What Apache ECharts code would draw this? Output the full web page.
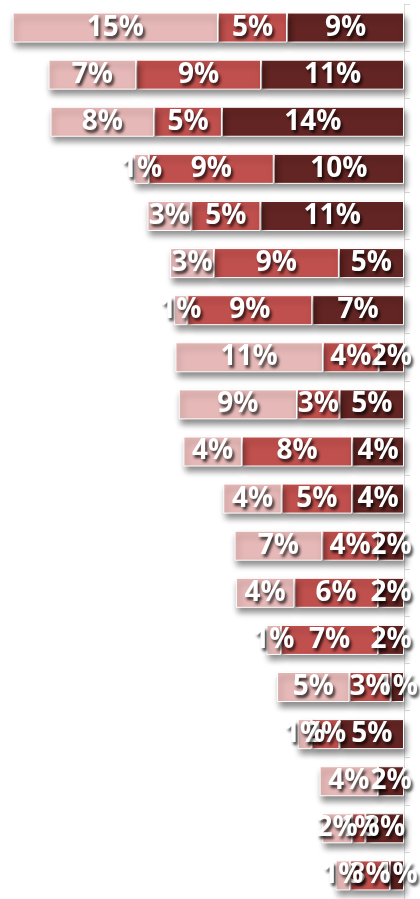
<!DOCTYPE html>
<html>
<head>
<meta charset="utf-8">
<script src="https://cdn.jsdelivr.net/npm/echarts@6/dist/echarts.min.js"></script>
<style>
    html,body{margin:0;padding:0;background:#fff;}
    #chart{width:420px;height:899px;}
</style>
</head>
<body>
<div id="chart"></div>
<script>
// 行（从上到下）
var categories = ['r1','r2','r3','r4','r5','r6','r7','r8','r9','r10','r11','r12','r13','r14','r15','r16','r17','r18','r19'];
// 三段的百分比数值（左：浅色，中：红色，右：深色）
var lightValues = [15.45, 6.6, 7.8, 1.1, 3.3, 3.3, 1.0, 11.1, 8.9, 4.4, 4.4, 6.6, 4.4, 1.1, 5.45, 1.05, 4.4, 2.25, 1.1];
var midValues   = [5.2, 9.4, 5.1, 9.4, 5.2, 9.4, 9.4, 4.2, 3.2, 8.3, 5.3, 4.2, 6.3, 7.3, 3.1, 2.1, 0, 1.0, 3.0];
var darkValues  = [8.8, 10.75, 13.7, 9.8, 10.8, 4.9, 6.9, 1.9, 4.85, 3.9, 3.9, 1.95, 1.95, 1.95, 1.0, 4.85, 1.95, 2.9, 1.05];

var chart = echarts.init(document.getElementById('chart'));

function makeSeries(name, data, color){
    return {
        name: name,
        type: 'bar',
        stack: 'total',
        data: data,
        barWidth: 30,
        itemStyle: {
            color: color,
            borderColor: '#ffffff',
            borderWidth: 1,
            shadowColor: 'rgba(0,0,0,0.45)',
            shadowBlur: 6,
            shadowOffsetX: 2,
            shadowOffsetY: 5
        },
        label: {
            show: true,
            position: 'inside',
            color: '#ffffff',
            fontFamily: 'Open Sans',
            fontWeight: 'bold',
            fontSize: 28,
            textShadowColor: 'rgba(0,0,0,0.75)',
            textShadowBlur: 3,
            textShadowOffsetX: 2,
            textShadowOffsetY: 3,
            formatter: function(p){
                return p.value > 0 ? Math.round(p.value) + '%' : '';
            }
        }
    };
}

var option = {
    animation: false,
    grid: {
        left: 0,
        right: 16,
        top: 4,
        height: 902
    },
    xAxis: {
        type: 'value',
        inverse: true,
        min: 0,
        max: 30.4,
        show: false
    },
    yAxis: {
        type: 'category',
        data: categories,
        inverse: true,
        position: 'right',
        axisLine: {
            show: true,
            lineStyle: { color: '#d9d9d9', width: 1 }
        },
        axisTick: {
            show: true,
            length: 6,
            lineStyle: { color: '#d9d9d9' }
        },
        axisLabel: { show: false }
    },
    // x 轴反向，先堆叠的在右侧
    series: [
        makeSeries('dark', darkValues, '#632523'),
        makeSeries('mid', midValues, '#c0504d'),
        makeSeries('light', lightValues, '#e6b9b8')
    ]
};

chart.setOption(option);
</script>
</body>
</html>
